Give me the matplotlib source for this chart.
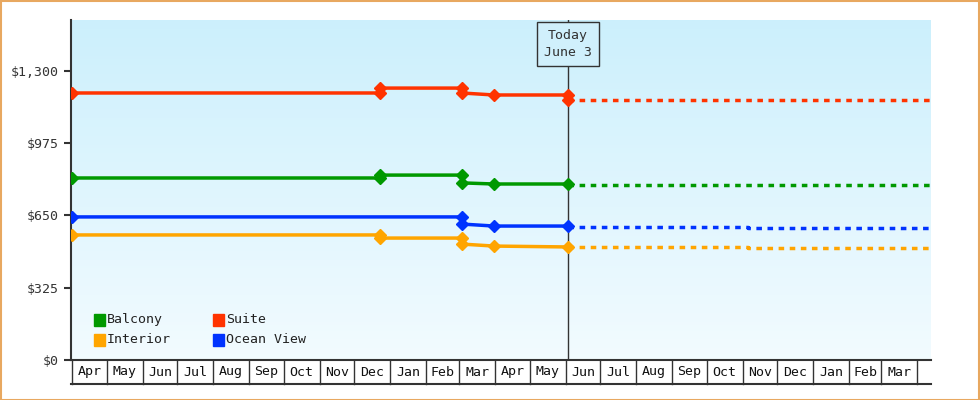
import matplotlib
matplotlib.use("Agg")
import matplotlib.pyplot as plt
import matplotlib.dates as mdates
import numpy as np
from datetime import date, timedelta
from matplotlib.patches import Rectangle

plt.rcParams['font.family'] = ['DejaVu Sans Mono']

# change dates
d0, dDec, dMar, dMar2, dToday, dNov, dEnd = (date(2023,4,1), date(2023,12,23), date(2024,3,3),
                                            date(2024,3,31), date(2024,6,3), date(2024,11,6), date(2025,4,13))
series = ["Balcony", "Suite", "Interior", "Ocean View"]
colors = {"Balcony": "#009900", "Suite": "#ff3300", "Interior": "#ffa500", "Ocean View": "#0033ff"}
# historical (solid) points, duplicates at change dates
hist_dates = {
    "Suite":      [d0, dDec, dDec, dMar, dMar, dMar2, dToday],
    "Balcony":    [d0, dDec, dDec, dMar, dMar, dMar2, dToday],
    "Ocean View": [d0, dMar, dMar, dMar2, dToday],
    "Interior":   [d0, dDec, dDec, dMar, dMar, dMar2, dToday],
}
hist_vals = {
    "Suite":      [1200, 1200, 1222, 1222, 1200, 1191, 1191],
    "Balcony":    [818, 818, 831, 831, 796, 791, 791],
    "Ocean View": [643, 643, 611, 602, 602],
    "Interior":   [562, 562, 548, 548, 521, 512, 508],
}
marker_idx = {
    "Suite": [0, 1, 2, 3, 4, 5, 6], "Balcony": [0, 1, 2, 3, 4, 5, 6],
    "Ocean View": [0, 1, 2, 3, 4], "Interior": [0, 1, 2, 3, 4, 5, 6],
}
# forecast (dashed)
fc_dates = {
    "Suite": [dToday, dEnd], "Balcony": [dToday, dEnd],
    "Ocean View": [dToday, dNov, dNov, dEnd], "Interior": [dToday, dNov, dNov, dEnd],
}
fc_vals = {
    "Suite": [1169, 1169], "Balcony": [787, 787],
    "Ocean View": [598, 598, 593, 593], "Interior": [508, 508, 503, 503],
}
yticks = [0, 325, 650, 975, 1300]

fig = plt.figure(figsize=(9.8, 4), dpi=100)
fig.patches.append(Rectangle((0.0008, 0.001), 0.998, 0.997, transform=fig.transFigure,
                             fill=False, edgecolor="#e8a860", lw=1.5))
ax = fig.add_axes([71/980, 40/400, 860/980, 340/400])
xmin, xmax = mdates.date2num(d0) - 1, mdates.date2num(dEnd)
ymin, ymax = 0, 1528
grad = np.linspace(0, 1, 256).reshape(-1, 1)
top = np.array([0.80, 0.94, 0.99]); bot = np.array([0.95, 0.985, 1.0])
img = top[None, None, :] * (1 - grad[:, :, None]) + bot[None, None, :] * grad[:, :, None]
ax.imshow(img, extent=[xmin, xmax, ymin, ymax], aspect='auto', origin='upper', zorder=0)
ax.set_xlim(xmin, xmax); ax.set_ylim(ymin, ymax)

for s in ["Suite", "Balcony", "Ocean View", "Interior"]:
    c = colors[s]
    xs = mdates.date2num(hist_dates[s])
    ax.plot(xs, hist_vals[s], color=c, lw=2.5, zorder=3, solid_capstyle='butt')
    mi = marker_idx[s]
    ax.plot(xs[mi], np.array(hist_vals[s])[mi], 'D', color=c, ms=6, zorder=4, ls='none')
    ax.plot(mdates.date2num(fc_dates[s]), fc_vals[s], color=c, lw=2.5, ls=(0, (1.6, 1.6)), zorder=3)
ax.plot(mdates.date2num([dToday]), [1169], 'D', color=colors["Suite"], ms=6, zorder=4)

# today line & box
tx = mdates.date2num(dToday)
ax.axvline(tx, ymin=0, ymax=(ymax - 275) / ymax if False else 1, color="#333333", lw=1, zorder=2)
ax.text(tx, 1420, "Today\nJune 3", ha='center', va='center', fontsize=9.5, color="#333333",
        linespacing=1.4, zorder=6,
        bbox=dict(boxstyle='square,pad=0.5', fc="#d0f0fc", ec="#333333", lw=1))

for sp in ['top', 'right']:
    ax.spines[sp].set_visible(False)
ax.spines['left'].set_linewidth(1.5); ax.spines['left'].set_color("#333333")
ax.spines['bottom'].set_linewidth(1.5); ax.spines['bottom'].set_color("#333333")
ax.set_yticks(yticks)
ax.set_yticklabels(["$" + format(v, ",") for v in yticks], fontsize=9.5, color="#333333")
ax.tick_params(axis='y', length=5, width=1.5, color="#333333")
ax.set_xticks([])

# month boxes
trans = ax.get_xaxis_transform()
mstarts = []
y, m = 2023, 4
while True:
    dd = date(y, m, 1)
    if dd > date(2025, 4, 1):
        break
    mstarts.append(dd)
    m += 1
    if m > 12:
        m = 1; y += 1
bh = -24 / 340
for i, ms in enumerate(mstarts):
    x = mdates.date2num(ms)
    ax.plot([x, x], [0, bh], transform=trans, color="#333333", lw=1, clip_on=False)
    if i < len(mstarts) - 1:
        xc = (x + mdates.date2num(mstarts[i + 1])) / 2
        ax.text(xc, bh / 2, ms.strftime("%b"), transform=trans, ha='center', va='center',
                fontsize=9.5, color="#111111", clip_on=False)
ax.plot([xmin, xmax], [bh, bh], transform=trans, color="#333333", lw=1.5, clip_on=False)

# legend
lx = [mdates.date2num(date(2023, 4, 20)), mdates.date2num(date(2023, 8, 1))]
for i, s in enumerate(["Balcony", "Suite", "Interior", "Ocean View"]):
    xx = lx[i % 2]; yy = 180 - (i // 2) * 90
    ax.add_patch(Rectangle((xx, yy - 25), 9, 50, color=colors[s], zorder=5))
    ax.text(xx + 11, yy, s, fontsize=9.5, va='center', color="#222222", zorder=5)

fig.savefig("out.png", dpi=100)
